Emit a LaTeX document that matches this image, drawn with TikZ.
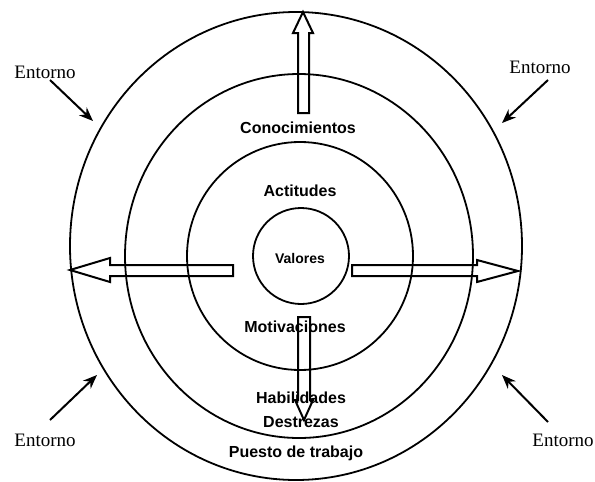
\documentclass[tikz,border=0pt]{standalone}
\usepackage{fontspec}
\setmainfont{Liberation Serif}
\newfontfamily\ringfont{Liberation Sans}
\usetikzlibrary{arrows.meta}

\begin{document}
\begin{tikzpicture}[x=1pt,y=-1pt,>={Stealth[length=14pt,width=11pt]},
  ring/.style={line width=1.8pt},
  blockarrow/.style={draw,fill=white,line width=2pt,line join=miter},
  ringlabel/.style={font=\ringfont\bfseries\fontsize{16}{18}\selectfont,inner sep=0pt},
  envlabel/.style={font=\fontsize{19}{22}\selectfont,inner sep=0pt},
  envarrow/.style={->,line width=2pt}]
\useasboundingbox (0,0) rectangle (595,482);

% la flecha blanca
\draw[blockarrow] (298,113) -- (298,33) -- (293,33) -- (303,12) -- (313,33) -- (309,33) -- (309,113) -- cycle;
\draw[blockarrow] (233,265) -- (110,265) -- (110,258) -- (70,270) -- (110,282) -- (110,276) -- (233,276) -- cycle;
\draw[blockarrow] (352,265) -- (477,265) -- (477,260) -- (518,271) -- (477,282) -- (477,276) -- (352,276) -- cycle;
\draw[blockarrow] (298,317) -- (298,400) -- (295,400) -- (304,420) -- (313,400) -- (310,400) -- (310,317) -- cycle;

% anillos
\draw[ring] (296,246) ellipse [x radius=226, y radius=234];
\draw[ring] (299,256) ellipse [x radius=174, y radius=182];
\draw[ring] (300,256) ellipse [x radius=113, y radius=114];
\draw[ring] (301,256) circle [radius=48];

\node[ringlabel] (conoc) at (298,128) {Conocimientos};
\node[ringlabel] (actit) at (300,191) {Actitudes};
\node[ringlabel,font=\ringfont\bfseries\fontsize{14}{16}\selectfont] (valor) at (300,258) {Valores};
\node[ringlabel] (motiv) at (295,327) {Motivaciones};
\node[ringlabel] (habil) at (301,398) {Habilidades};
\node[ringlabel] (destr) at (301,422) {Destrezas};
\node[ringlabel] (puesto) at (296,453) {Puesto de trabajo};

% entorno
\node[envlabel] (env tl) at (45,72) {Entorno};
\node[envlabel] (env tr) at (540,67) {Entorno};
\node[envlabel] (env bl) at (45,440) {Entorno};
\node[envlabel] (env br) at (563,440) {Entorno};
\coordinate (tl a) at (50,80);  \coordinate (tl b) at (93,121);
\coordinate (tr a) at (548,80); \coordinate (tr b) at (502,123);
\coordinate (bl a) at (50,420); \coordinate (bl b) at (97,375);
\coordinate (br a) at (548,422);\coordinate (br b) at (502,375);
\draw[envarrow] (tl a) -- (tl b);
\draw[envarrow] (tr a) -- (tr b);
\draw[envarrow] (bl a) -- (bl b);
\draw[envarrow] (br a) -- (br b);
\end{tikzpicture}
\end{document}
